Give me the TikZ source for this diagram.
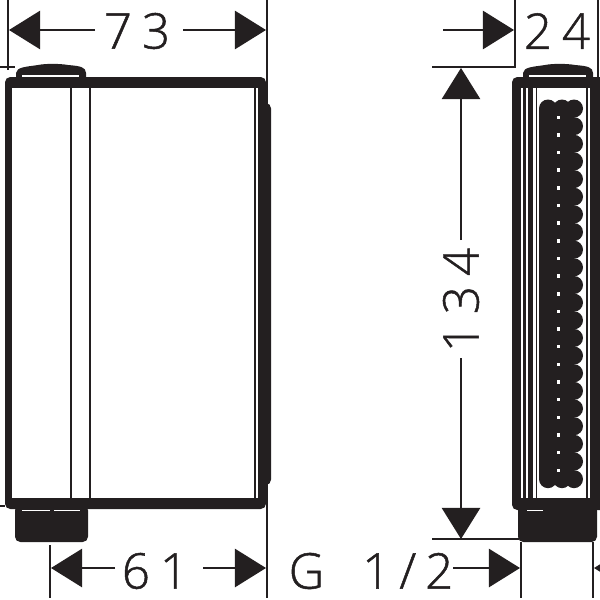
\documentclass[tikz,border=0pt]{standalone}
\usepackage{fontspec}
\newfontfamily\dimfont[RawFeature={embolden=1.0}]{Open Sans Light}
\usetikzlibrary{arrows.meta}

\definecolor{ink}{HTML}{231F20}
\tikzset{
	dimline/.style={line width=0.25mm, color=ink},
	dimtip/.style={line width=0.25mm, color=ink, -{Triangle[length=3.1mm, width=3.8mm]}},
	dimtext/.style={text=ink, inner sep=0pt, font=\dimfont\fontsize{14}{14}\selectfont},
	wall/.style={fill=ink, draw=none},
	gap/.style={fill=white, draw=none},
	thinwall/.style={line width=0.25mm, color=ink}
}

\begin{document}
\begin{tikzpicture}[x=0.01cm, y=-0.01cm]

\def\width{600}
\def\height{600}
\def\pitch{17.65}

\path [use as bounding box] (0,0) rectangle (\width,\height);
\clip (0,0) rectangle (\width,\height);

% KNOBS
\foreach \ox in {16,523} {
	\fill [wall] (\ox,78) -- (\ox,73)
		.. controls (\ox+1,67) and (\ox+9,67) .. (\ox+22,65)
		.. controls (\ox+29,63.5) and (\ox+44,63.5) .. (\ox+52,65)
		.. controls (\ox+64,66) and (\ox+70,67) .. (\ox+70,73)
		-- (\ox+70,78) -- cycle;
	\fill [gap] (\ox,74.5) +(6,0) rectangle +(63,2.5);
}

% FRONT VIEW
\fill [wall, rounded corners=1.5pt] (15,505) rectangle (88,542);
\fill [wall, rounded corners=1.5pt] (5,77) rectangle (266,509);
\fill [gap] (12,88) rectangle (258,498);
\fill [gap] (22,510) rectangle (50,511);
\fill [gap] (54,510) rectangle (80,511);
\draw [thinwall] (71,88) -- (71,498);
\draw [thinwall] (90,88) -- (90,498);
\draw [thinwall] (255,88) -- (255,498);
\draw [thinwall] (259.5,88) -- (259.5,498);
\fill [wall, rounded corners=1.5pt] (259,103) rectangle (271,485);

% SIDE VIEW
\fill [wall, rounded corners=1.5pt] (518,505) rectangle (597,542);
\fill [wall, rounded corners=1.5pt] (512,77) rectangle (640,510);
\fill [gap] (521,88) rectangle (590,498);
\fill [wall] (522.5,88) rectangle (526,498);
\fill [wall] (527.5,88) rectangle (533,498);
\fill [wall] (535.5,88) rectangle (537,498);
\fill [wall] (585.5,88) rectangle (588,498);
\fill [gap] (527,510) rectangle (543,511);

% NOZZLES
\fill [wall] (539,108.5) rectangle (574,479);
\foreach \row in {0,...,21} {
	\foreach \col in {548,562,574} {
		\fill [wall] (\col,108.5+\row*\pitch) circle (9);
	}
}
\foreach \row in {0,...,20} {
	\fill [gap] (556.5,115.5+\row*\pitch) rectangle +(3.5,3.5);
}

% EXTENSION LINES
\coordinate (e1t) at (8,0);
\coordinate (e1b) at (8,70);
\coordinate (e2t) at (267,0);
\coordinate (e2b) at (267,598);
\coordinate (e3t) at (50,545);
\coordinate (e3b) at (50,598);
\coordinate (e4t) at (515,0);
\coordinate (e4b) at (515,68);
\coordinate (e5t) at (598,0);
\coordinate (e5b) at (598,78);
\coordinate (e6t) at (521,542);
\coordinate (e6b) at (521,598);
\coordinate (e7t) at (593,542);
\coordinate (e7b) at (593,598);
\coordinate (h1l) at (0,67);
\coordinate (h1r) at (15,67);
\coordinate (h2l) at (0,506);
\coordinate (h2r) at (5,506);
\coordinate (h3l) at (432,67);
\coordinate (h3r) at (515,67);
\coordinate (h4l) at (432,539);
\coordinate (h4r) at (519,539);
\foreach \a/\b in {e1t/e1b, e2t/e2b, e3t/e3b, e4t/e4b, e5t/e5b, e6t/e6b, e7t/e7b, h1l/h1r, h2l/h2r, h3l/h3r, h4l/h4r} {
	\draw [dimline] (\a) -- (\b);
}

% DIMENSIONS
\node [dimtext] (dim73) at (137,31) {7\hspace{1mm}3};
\node [dimtext] (dim61) at (155,571) {6\hspace{1mm}1};
\node [dimtext] (dim24) at (557,31) {2\hspace{1mm}4};
\node [dimtext] (dimg) at (371,571) {G\hspace{3.8mm}1\hspace{0.9mm}/\hspace{0.9mm}2};
\node [dimtext, rotate=90] (dim134) at (461,300) {1\hspace{1mm}3\hspace{1mm}4};

\coordinate (a1s) at (95,30);
\coordinate (a1e) at (9,30);
\coordinate (a2s) at (183,30);
\coordinate (a2e) at (266,30);
\coordinate (a3s) at (115,568);
\coordinate (a3e) at (51,568);
\coordinate (a4s) at (203,568);
\coordinate (a4e) at (266,568);
\coordinate (a5s) at (443,30);
\coordinate (a5e) at (514,30);
\coordinate (a6s) at (461,240);
\coordinate (a6e) at (461,68);
\coordinate (a7s) at (461,358);
\coordinate (a7e) at (461,539);
\coordinate (a8s) at (453,568);
\coordinate (a8e) at (520,568);
\coordinate (a9s) at (660,568);
\coordinate (a9e) at (594,568);
\foreach \a/\b in {a1s/a1e, a2s/a2e, a3s/a3e, a4s/a4e, a5s/a5e, a6s/a6e, a7s/a7e, a8s/a8e, a9s/a9e} {
	\draw [dimtip] (\a) -- (\b);
}

\end{tikzpicture}
\end{document}
